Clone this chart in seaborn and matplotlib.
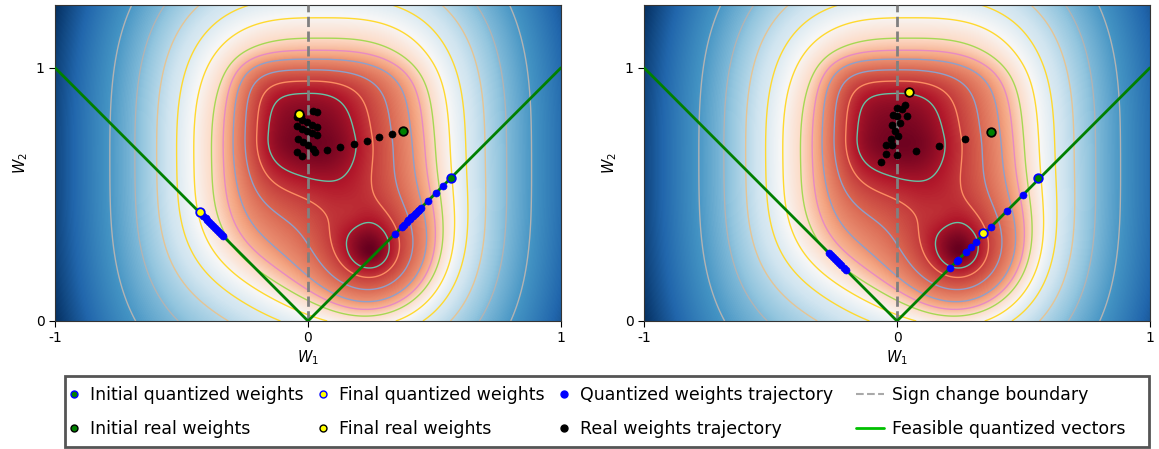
import numpy as np
import matplotlib
matplotlib.use("Agg")
import matplotlib.pyplot as plt
import seaborn as sns
from matplotlib.lines import Line2D
from matplotlib.patches import Rectangle

# ---- loss landscape ----
bowl_center = (0.05, 0.62)
bowl_scale = (1.0, 1.15)
# main (squarish) basin, per side: left, right, down, up
main_center = (0.0, 0.73)
main_scale = (0.25, 0.31, 0.24, 0.27)
main_power = (4.0, 2.4, 2.1, 4.8)
main_depth = 0.30
# round bumps: second basin, ridge between basins, hill at the lower left
bump_center = [(0.25, 0.27), (0.17, 0.42), (-0.35, 0.0)]
bump_scale = [0.195, 0.07, 0.316]
bump_power = [1.5, 2, 2]
bump_depth = [0.42, -0.03, -0.075]

# contour crossings read along W2 = 0.72, left side (inner -> outer)
level_x = [-0.158, -0.203, -0.249, -0.296, -0.335, -0.381, -0.451, -0.519, -0.598, -0.684, -0.783]
level_colors = ['#66c2a5', '#fc8d62', '#8da0cb', '#8da0cb', '#e78ac3', '#a6d854',
                '#ffd92f', '#ffd92f', '#e5c494', '#b3b3b3', '#b3b3b3']
level_shade = [0.09, 0.15, 0.21, 0.27, 0.33, 0.40, 0.49, 0.57, 0.64, 0.72, 0.79]

# ---- left panel ----
init_q_left = (0.565, 0.565)
final_q_left = (-0.427, 0.43)
init_r_left = (0.375, 0.75)
final_r_left = (-0.034, 0.819)
traj_q_left_x = [0.535, 0.505, 0.473, 0.445, 0.439, 0.433, 0.427, 0.421, 0.415, 0.409, 0.403,
                 0.397, 0.39, 0.38, 0.372, 0.345,
                 -0.337, -0.345, -0.352, -0.36, -0.368, -0.375, -0.383, -0.39, -0.398, -0.405, -0.414]
traj_q_left_y = [abs(v) for v in traj_q_left_x]
traj_r_left_x = [0.331, 0.282, 0.232, 0.181, 0.128, 0.075, 0.026,
                 -0.042, -0.023, -0.038, -0.019, 0.001, 0.021,
                 -0.042, -0.023, -0.003, 0.017, 0.034,
                 -0.045, -0.025, -0.005, 0.015, 0.034,
                 0.021, 0.037, -0.028]
traj_r_left_y = [0.739, 0.725, 0.711, 0.698, 0.686, 0.677, 0.668,
                 0.668, 0.653, 0.718, 0.706, 0.694, 0.681,
                 0.771, 0.76, 0.751, 0.742, 0.734,
                 0.804, 0.794, 0.785, 0.776, 0.766,
                 0.831, 0.827, 0.81]

# ---- right panel ----
init_q_right = (0.557, 0.565)
final_q_right = (0.341, 0.347)
init_r_right = (0.370, 0.748)
final_r_right = (0.049, 0.906)
traj_q_right_x = [0.499, 0.436, 0.372, 0.312, 0.294, 0.273, 0.242, 0.236, 0.209,
                  -0.268, -0.26, -0.252, -0.244, -0.236, -0.228, -0.22, -0.211, -0.202]
traj_q_right_y = [abs(v) for v in traj_q_right_x]
traj_r_right_x = [0.269, 0.167, 0.075, -0.001, -0.063, -0.043, -0.043, -0.019, -0.025, 0.005,
                  -0.008, -0.021, 0.012, -0.015, -0.001, 0.038, 0.001, 0.019, 0.032]
traj_r_right_y = [0.719, 0.692, 0.672, 0.657, 0.628, 0.661, 0.694, 0.694, 0.72, 0.731,
                  0.751, 0.775, 0.781, 0.814, 0.808, 0.81, 0.841, 0.837, 0.853]

feasible_x = [-1, 0, 1]
feasible_y = [1, 0, 1]


def loss(x, y):
    val = ((np.abs(x - bowl_center[0]) / bowl_scale[0]) ** 3 +
           (np.abs(y - bowl_center[1]) / bowl_scale[1]) ** 3) ** (2 / 3)
    dx = x - main_center[0]
    dy = y - main_center[1]
    sx = np.where(dx < 0, main_scale[0], main_scale[1])
    px = np.where(dx < 0, main_power[0], main_power[1])
    sy = np.where(dy < 0, main_scale[2], main_scale[3])
    py = np.where(dy < 0, main_power[2], main_power[3])
    val = val - main_depth * np.exp(-((np.abs(dx) / sx) ** px + (np.abs(dy) / sy) ** py))
    for (cx, cy), s, p, d in zip(bump_center, bump_scale, bump_power, bump_depth):
        r = np.hypot(x - cx, y - cy) / s
        val = val - d * np.exp(-r ** p)
    return val


sns.set_style("ticks")
plt.rcParams['font.family'] = ['DejaVu Sans']
plt.rcParams['axes.unicode_minus'] = False
plt.rcParams['text.color'] = 'black'
plt.rcParams['axes.labelcolor'] = 'black'
plt.rcParams['xtick.color'] = 'black'
plt.rcParams['ytick.color'] = 'black'

gx = np.linspace(-1, 1, 500)
gy = np.linspace(0, 1.25, 320)
X, Y = np.meshgrid(gx, gy)
L = loss(X, Y)
levels = loss(np.array(level_x), 0.72)
shade = np.interp(L, np.r_[L.min(), levels, L.max()], np.r_[0.0, level_shade, 1.0])

fig = plt.figure(figsize=(11.59, 4.49), dpi=100)
W, H = 1159, 449
ax_left = fig.add_axes([55 / W, 1 - 321 / H, 506 / W, 316.5 / H])
ax_right = fig.add_axes([644 / W, 1 - 321 / H, 506 / W, 316.5 / H])

panels = [
    (ax_left, init_q_left, final_q_left, init_r_left, final_r_left,
     traj_q_left_x, traj_q_left_y, traj_r_left_x, traj_r_left_y),
    (ax_right, init_q_right, final_q_right, init_r_right, final_r_right,
     traj_q_right_x, traj_q_right_y, traj_r_right_x, traj_r_right_y),
]

for ax, iq, fq, ir, fr, tqx, tqy, trx, try_ in panels:
    ax.imshow(shade, extent=[-1, 1, 0, 1.25], origin='lower', cmap='RdBu',
              vmin=0, vmax=1, aspect='auto', interpolation='bilinear')
    ax.contour(X, Y, L, levels=levels, colors=level_colors, linewidths=1.0)
    ax.axvline(0, color='gray', ls='--', lw=2, zorder=3)
    sns.lineplot(x=feasible_x, y=feasible_y, sort=False, estimator=None, color='green',
                 lw=2, ax=ax, zorder=4)
    sns.scatterplot(x=trx, y=try_, color='black', edgecolor='black', s=26, ax=ax, zorder=5)
    sns.scatterplot(x=tqx, y=tqy, color='blue', edgecolor='blue', s=26, ax=ax, zorder=5)
    sns.scatterplot(x=[iq[0]], y=[iq[1]], color='green', edgecolor='blue', linewidth=1.3, s=38, ax=ax, zorder=6)
    sns.scatterplot(x=[fq[0]], y=[fq[1]], color='yellow', edgecolor='blue', linewidth=1.3, s=38, ax=ax, zorder=6)
    sns.scatterplot(x=[ir[0]], y=[ir[1]], color='green', edgecolor='black', linewidth=1.3, s=38, ax=ax, zorder=6)
    sns.scatterplot(x=[fr[0]], y=[fr[1]], color='yellow', edgecolor='black', linewidth=1.3, s=38, ax=ax, zorder=6)
    ax.set_xlim(-1, 1)
    ax.set_ylim(0, 1.25)
    ax.set_xticks([-1, 0, 1])
    ax.set_yticks([0, 1])
    ax.set_xticklabels(['-1', '0', '1'])
    ax.set_yticklabels(['0', '1'])
    ax.tick_params(labelsize=10, length=4)
    ax.set_xlabel('$W_1$', fontsize=10.5, labelpad=2)
    ax.set_ylabel('$W_2$', fontsize=10.5)
    for sp in ax.spines.values():
        sp.set_color('#333333')

# legend: one frame, marker entries and line entries laid out separately
fig.add_artist(Rectangle((65 / W, 2 / H), 1084 / W, 71 / H, transform=fig.transFigure,
                         facecolor='white', edgecolor='#555555', lw=2, zorder=1))
marker_handles = [
    Line2D([], [], ls='', marker='o', ms=5, mfc='green', mec='blue', mew=1, label='Initial quantized weights'),
    Line2D([], [], ls='', marker='o', ms=5, mfc='green', mec='black', mew=1, label='Initial real weights'),
    Line2D([], [], ls='', marker='o', ms=5, mfc='yellow', mec='blue', mew=1, label='Final quantized weights'),
    Line2D([], [], ls='', marker='o', ms=5, mfc='yellow', mec='black', mew=1, label='Final real weights'),
    Line2D([], [], ls='', marker='o', ms=5, mfc='blue', mec='blue', label='Quantized weights trajectory'),
    Line2D([], [], ls='', marker='o', ms=5, mfc='black', mec='black', label='Real weights trajectory'),
]
line_handles = [
    Line2D([], [], color='darkgray', ls='--', lw=1.5, label='Sign change boundary'),
    Line2D([], [], color='#00c000', lw=2, label='Feasible quantized vectors'),
]
top = 1 - 386 / H
leg_kw = dict(loc='upper left', fontsize=12.5, frameon=False, borderpad=0, borderaxespad=0,
              labelspacing=0.95, labelcolor='black')
leg_a = fig.legend(handles=marker_handles, ncol=3, bbox_to_anchor=(65.5 / W, top),
                   handlelength=1.0, handletextpad=0.42, columnspacing=0.6, **leg_kw)
leg_b = fig.legend(handles=line_handles, ncol=1, bbox_to_anchor=(856 / W, top),
                   handlelength=1.6, handletextpad=0.5, **leg_kw)

fig.savefig('out.png', dpi=100)
